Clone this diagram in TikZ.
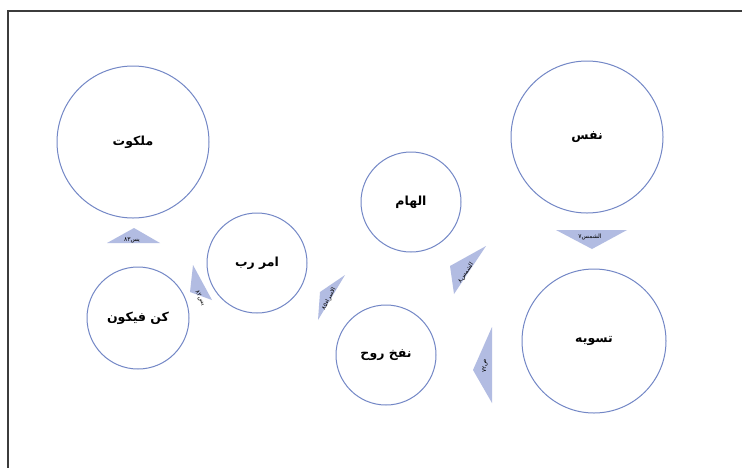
\documentclass[tikz,border=0pt]{standalone}
\usepackage{fontspec}
\TeXXeTstate=1
\newfontfamily\arabicfont[Script=Arabic]{DejaVu Sans}
\definecolor{circcol}{RGB}{115,135,198}
\definecolor{tricol}{RGB}{178,188,226}
\definecolor{framecol}{RGB}{60,60,60}
\tikzset{
  circ/.style={circle,draw=circcol,line width=1pt,inner sep=0pt,minimum size=#1,
    font=\arabicfont\bfseries\fontsize{12.5}{14}\selectfont},
  tri/.style={fill=tricol,draw=none},
  tlbl/.style={font=\arabicfont\fontsize{6}{7}\selectfont,text=black,inner sep=0pt}
}
\begin{document}
\begin{tikzpicture}[x=1pt,y=-1pt]
\useasboundingbox (0,0) rectangle (742,467);
\fill[white] (0,0) rectangle (742,467);
\draw[framecol,line width=1.8pt] (8,480) -- (8,11) -- (760,11);
% circles
\node[circ=152pt] (malakut) at (133,142) {\beginR ملکوت\endR};
\node[circ=152pt] (nafs) at (587,137) {\beginR نفس\endR};
\node[circ=100pt] (elham) at (411,202) {\beginR الهام\endR};
\node[circ=100pt] (amr) at (257,263) {\beginR امر رب\endR};
\node[circ=102pt] (kon) at (138,318) {\beginR کن فیکون\endR};
\node[circ=100pt] (nafkh) at (386,355) {\beginR نفخ روح\endR};
\node[circ=144pt] (tasviye) at (594,341) {\beginR تسویه\endR};
% triangles
\fill[tri] (134,228) -- (107,243) -- (160,243) -- cycle;
\node[tlbl] (t1) at (132,240) {\beginR یس۸۳\endR};
\fill[tri] (556,230) -- (627,230) -- (592,249) -- cycle;
\node[tlbl] (t2) at (590,237) {\beginR الشمس۷\endR};
\fill[tri] (473,370) -- (492,327) -- (492,403) -- cycle;
\node[tlbl,rotate=90] (t3) at (485,366) {\beginR ص۷۲\endR};
\fill[tri] (486,246) -- (450,266) -- (454,294) -- cycle;
\node[tlbl,rotate=57] (t4) at (466,273) {\beginR الشمس۸\endR};
\fill[tri] (345,275) -- (320,292) -- (318,320) -- cycle;
\node[tlbl,rotate=63] (t5) at (329,299) {\beginR الاسراء۸۵\endR};
\fill[tri] (193,265) -- (190,292) -- (212,300) -- cycle;
\node[tlbl,rotate=-63] (t6) at (200,298) {\beginR یس۸۲\endR};
\end{tikzpicture}
\end{document}
